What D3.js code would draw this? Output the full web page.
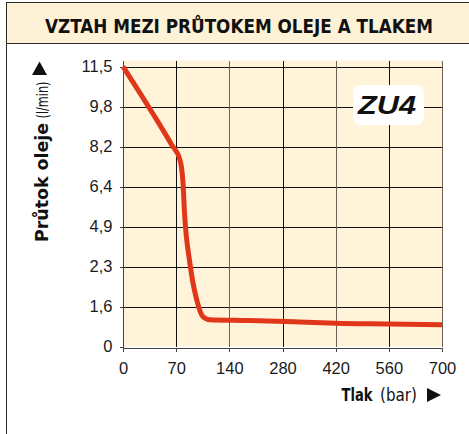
<!DOCTYPE html>
<html><head><meta charset="utf-8">
<script src="https://cdn.jsdelivr.net/npm/d3@7"></script>
<style>body{margin:0;background:#fff}svg{display:block}</style>
</head><body><svg id="chart" width="469" height="434"></svg>
<script>
// Oil flow vs. pressure characteristic (ZU4)
const titleText = "VZTAH MEZI PRŮTOKEM OLEJE A TLAKEM";
const badgeText = "ZU4";
const xTicks = [0, 70, 140, 280, 420, 560, 700];            // pressure, bar
const yTicks = [0, 1.6, 2.3, 4.9, 6.4, 8.2, 9.8, 11.5];     // flow, l/min
const pressure = [0, 39, 64, 75, 79, 81, 88, 97, 105, 114, 194, 325, 420, 560, 700];
const flow     = [11.5, 9.53, 8.27, 7.6, 6.57, 5.41, 2.54, 1.72, 1.2, 1.07, 1.04, 0.98, 0.93, 0.9, 0.87];

const svg = d3.select("#chart");
const condensed = "'Liberation Sans Narrow','Arial Narrow','DejaVu Sans Condensed',sans-serif";
const regular = "'Liberation Sans',Arial,Helvetica,sans-serif";

// frame + title band
svg.append("rect").attr("x", 6.5).attr("y", 2.5).attr("width", 463).attr("height", 41)
  .attr("fill", "#fdf2d6").attr("stroke", "#2a2a2a").attr("stroke-width", 1);
svg.append("line").attr("x1", 6.5).attr("x2", 6.5).attr("y1", 2).attr("y2", 434)
  .attr("stroke", "#2a2a2a");
svg.append("text").attr("x", 45).attr("y", 33)
  .attr("font-family", condensed).attr("font-weight", "bold").attr("font-size", 20)
  .attr("textLength", 388).attr("lengthAdjust", "spacingAndGlyphs")
  .attr("fill", "#111").text(titleText);

// Scales: ticks are evenly spaced, so both axes are piecewise linear
const plotL = 123, plotR = 442, plotB = 346.5, plotT = 66.5;
const x = d3.scaleLinear().domain(xTicks)
  .range(xTicks.map((d, i) => plotL + i * (plotR - plotL) / (xTicks.length - 1)));
const y = d3.scaleLinear().domain(yTicks)
  .range(yTicks.map((d, i) => plotB - i * (plotB - plotT) / (yTicks.length - 1)));

// plot background
svg.append("rect").attr("x", plotL).attr("y", plotT - 6).attr("width", plotR - plotL)
  .attr("height", plotB - plotT + 6).attr("fill", "#fff4d9");

// grid
const grid = svg.append("g").attr("shape-rendering", "crispEdges").attr("stroke", "#111");
grid.selectAll("line.h").data(yTicks.slice(1)).join("line")
  .attr("x1", plotL).attr("x2", plotR)
  .attr("y1", d => Math.round(y(d)) + 0.5).attr("y2", d => Math.round(y(d)) + 0.5);
grid.selectAll("line.v").data(xTicks.slice(1)).join("line")
  .attr("y1", plotT - 6).attr("y2", plotB)
  .attr("x1", d => Math.round(x(d)) + 0.5).attr("x2", d => Math.round(x(d)) + 0.5)
  .attr("stroke", (d, i) => i % 2 ? "#6b6355" : "#111");

// axes
const fmt = d => String(d).replace(".", ",");
const yAxis = svg.append("g").attr("transform", `translate(${plotL + 0.5},0)`)
  .call(d3.axisLeft(y).tickValues(yTicks).tickFormat(fmt).tickSize(4).tickSizeOuter(0).tickPadding(7));
const xAxis = svg.append("g").attr("transform", `translate(0,${Math.round(plotB) + 0.5})`)
  .call(d3.axisBottom(x).tickValues(xTicks).tickFormat(fmt).tickSize(4).tickSizeOuter(0).tickPadding(11));
[yAxis, xAxis].forEach(a => {
  a.select(".domain").attr("stroke", "#444").attr("shape-rendering", "crispEdges");
  a.selectAll(".tick line").attr("stroke", "#444").attr("shape-rendering", "crispEdges");
  a.selectAll(".tick text").attr("font-family", regular).attr("font-size", 16.5).attr("fill", "#1a1a1a");
});
yAxis.select(".domain").attr("d", `M0,${plotT - 6}V${plotB}`);

// curve
const pts = pressure.map((p, i) => [p, flow[i]]);
svg.append("path").datum(pts)
  .attr("fill", "none").attr("stroke", "#e0371a").attr("stroke-width", 5)
  .attr("stroke-linejoin", "round").attr("stroke-linecap", "butt")
  .attr("d", d3.line().x(d => x(d[0])).y(d => y(d[1])).curve(d3.curveMonotoneX));

// badge
svg.append("rect").attr("x", 353).attr("y", 85).attr("width", 71).attr("height", 40).attr("rx", 8)
  .attr("fill", "#fff");
svg.append("text").attr("x", 358).attr("y", 114)
  .attr("font-family", regular).attr("font-weight", "bold").attr("font-style", "italic")
  .attr("font-size", 26).attr("textLength", 58).attr("lengthAdjust", "spacingAndGlyphs")
  .attr("fill", "#111").text(badgeText);

// axis titles with arrow triangles
function label(tx, ty, rot, txt, len, bold, size) {
  return svg.append("text").attr("transform", `translate(${tx},${ty}) rotate(${rot})`)
    .attr("font-family", condensed).attr("font-size", size).attr("fill", "#111")
    .attr("font-weight", bold ? "bold" : "normal")
    .attr("textLength", len).attr("lengthAdjust", "spacingAndGlyphs").text(txt);
}
label(48, 242, -90, "Průtok oleje", 119, true, 17);
label(48, 118.5, -90, "(l/min)", 37, false, 15.5);
svg.append("path").attr("d", "M32,75L47,75L39.5,61.5Z").attr("fill", "#111");

label(341.5, 401, 0, "Tlak", 31, true, 18);
label(380, 401, 0, "(bar)", 37, false, 17);
svg.append("path").attr("d", "M427,388L427,402L441,395Z").attr("fill", "#111");
</script></body></html>
